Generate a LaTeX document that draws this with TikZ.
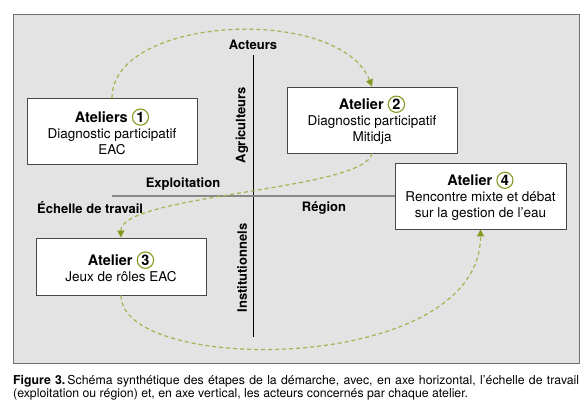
\documentclass[tikz,border=0pt]{standalone}
\usepackage{fontspec}
\setmainfont{TeX Gyre Heros}
\usepackage{xcolor}
\usepackage{tikz}
\usetikzlibrary{arrows.meta,positioning,calc}
\definecolor{fondgris}{HTML}{E3E3E3}
\definecolor{cadregris}{HTML}{707070}
\definecolor{vertpointille}{HTML}{A3B452}
\definecolor{vertfleche}{HTML}{86991F}
\definecolor{axegris}{HTML}{888888}
\newcommand{\numatelier}[1]{\tikz[baseline=(numc.base)]\node[circle, draw=vertfleche, fill=none, line width=1.1pt, minimum width=0pt, minimum height=0pt, inner sep=1.1pt] (numc) {\textbf{#1}};}
\tikzset{
  atelier/.style={draw=black!72, line width=0.9pt, fill=white, align=center, minimum width=170pt, minimum height=66pt, font=\fontsize{13.5}{16}\selectfont},
  axelabel/.style={font=\fontsize{13}{15}\selectfont\bfseries, inner sep=0pt},
  axeh/.style={draw=axegris, line width=1.8pt},
  axev/.style={draw=black, line width=0.8pt},
  parcours/.style={draw=vertpointille, line width=1.2pt, dash pattern=on 4pt off 3pt, -{Triangle[length=7pt, width=7pt, color=vertfleche]}},
  legende/.style={anchor=north west, inner sep=0pt, align=left, font=\fontsize{12.3}{13}\selectfont},
}
\begin{document}
\begin{tikzpicture}[x=1pt, y=-1pt]
  \useasboundingbox (0,0) rectangle (588,406);
  \filldraw[fill=fondgris, draw=cadregris, line width=1pt] (13,15) rectangle (579,363);

  \coordinate (axehaut) at (253,55);
  \coordinate (axebas) at (253,337);
  \coordinate (axegauche) at (112,196);

  \node[atelier] (a1) at (112,131.5) {{\fontsize{14.5}{17}\selectfont\bfseries Ateliers \numatelier{1}}\\Diagnostic participatif\\EAC};
  \node[atelier] (a2) at (372,120) {{\fontsize{14.5}{17}\selectfont\bfseries Atelier \numatelier{2}}\\Diagnostic participatif\\Mitidja};
  \node[atelier, minimum height=57pt] (a3) at (121,266.5) {{\fontsize{14.5}{17}\selectfont\bfseries Atelier \numatelier{3}}\\Jeux de rôles EAC};

  \draw[axev] (axehaut) -- (axebas);
  \draw[axeh] (axegauche) -- (395,196) coordinate (axedroite);

  \node[atelier, minimum width=171pt] (a4) at (480.5,196) {{\fontsize{14.5}{17}\selectfont\bfseries Atelier \numatelier{4}}\\Rencontre mixte et débat\\sur la gestion de l’eau};

  \node[axelabel] (acteurs) at (253,45) {Acteurs};
  \node[axelabel, rotate=90] (agri) at (242,125) {Agriculteurs};
  \node[axelabel, rotate=90] (insti) at (242,268) {Institutionnels};
  \node[axelabel] (exploit) at (183,184) {Exploitation};
  \node[axelabel, anchor=west] (echelle) at (37,208) {Échelle de travail};
  \node[axelabel] (region) at (324,208) {Région};

  \draw[parcours] (a1.north) .. controls ($(a1.north)+(0,-83)$) and ($(a2.north)+(-32,-82)$) .. (a2.north);
  \draw[parcours] (a2.south) .. controls ($(a2.south)+(-7,37)$) and ($(a3.north)+(-1,-43)$) .. (a3.north);
  \draw[parcours] (a3.south) .. controls ($(a3.south)+(0,80)$) and ($(a4.south)+(0,146)$) .. (a4.south);

  \node[legende] (legende) at (13,375) {\makebox[566pt][s]{\textbf{Figure 3.}\,Schéma synthétique des étapes de la démarche, avec, en axe horizontal, l’échelle de travail}\\(exploitation ou région) et, en axe vertical, les acteurs concernés par chaque atelier.};
\end{tikzpicture}
\end{document}
